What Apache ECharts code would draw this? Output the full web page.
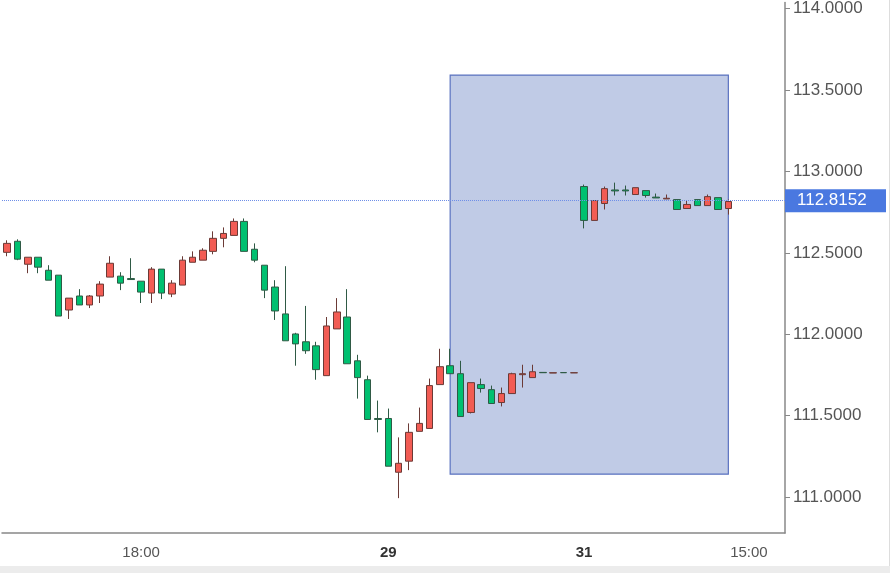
<!DOCTYPE html>
<html>
<head>
<meta charset="utf-8">
<script src="https://cdn.jsdelivr.net/npm/echarts@6/dist/echarts.min.js"></script>
<style>
  html, body { margin: 0; padding: 0; background: #fff; }
  #chart { width: 890px; height: 566px; border-right: 1px solid #ddd; box-sizing: border-box; }
  .strip { width: 890px; height: 7px; background: #ececec; }
</style>
</head>
<body>
<div id="chart"></div>
<div class="strip"></div>
<script>
// open, close, low, high per candle
const opens = [112.503,112.571,112.430,112.473,112.393,112.363,112.149,112.235,112.180,112.235,112.351,112.357,112.342,112.326,112.253,112.400,112.247,112.302,112.442,112.455,
  112.509,112.589,112.607,112.693,112.522,112.424,112.290,112.125,112.002,111.954,111.929,111.746,112.033,112.106,111.837,111.721,111.483,111.483,111.153,111.221,
  111.404,111.422,111.691,111.807,111.758,111.520,111.691,111.660,111.581,111.636,111.752,111.734,111.766,111.762,111.765,111.763,
  112.907,112.699,112.803,112.886,112.886,112.858,112.882,112.842,112.831,112.827,112.772,112.827,112.790,112.839,112.772];
const closes = [112.558,112.461,112.473,112.412,112.332,112.112,112.222,112.180,112.235,112.308,112.436,112.314,112.336,112.259,112.400,112.253,112.314,112.455,112.473,112.516,
  112.589,112.619,112.693,112.509,112.455,112.271,112.143,111.960,111.941,111.899,111.783,112.051,112.137,111.819,111.734,111.477,111.477,111.190,111.208,111.398,
  111.453,111.685,111.801,111.758,111.495,111.703,111.667,111.575,111.636,111.758,111.758,111.770,111.764,111.764,111.764,111.764,
  112.699,112.821,112.894,112.880,112.880,112.900,112.852,112.837,112.835,112.766,112.797,112.790,112.845,112.766,112.815];
const lows = [112.479,112.455,112.375,112.375,112.332,112.112,112.094,112.180,112.161,112.192,112.351,112.271,112.336,112.192,112.192,112.216,112.228,112.302,112.442,112.455,
  112.491,112.534,112.607,112.509,112.442,112.222,112.088,111.960,111.807,111.880,111.721,111.746,112.033,111.819,111.605,111.477,111.398,111.190,110.994,111.166,
  111.404,111.422,111.691,111.758,111.495,111.514,111.642,111.575,111.557,111.636,111.673,111.734,111.764,111.762,111.764,111.763,
  112.650,112.699,112.766,112.852,112.852,112.858,112.839,112.837,112.831,112.766,112.772,112.790,112.790,112.766,112.735];
const highs = [112.577,112.583,112.473,112.473,112.424,112.363,112.222,112.277,112.241,112.326,112.479,112.381,112.467,112.326,112.412,112.400,112.332,112.479,112.509,112.528,
  112.632,112.656,112.711,112.711,112.558,112.424,112.332,112.418,112.009,112.174,111.954,112.106,112.222,112.277,111.874,111.746,111.593,111.544,111.367,111.453,
  111.550,111.728,111.911,111.911,111.837,111.703,111.728,111.685,111.673,111.764,111.813,111.813,111.766,111.764,111.765,111.764,
  112.919,112.821,112.907,112.931,112.913,112.900,112.882,112.864,112.858,112.827,112.821,112.827,112.858,112.839,112.827];

const tickLabels = { 13: '18:00', 37: '29', 56: '31', 72: '15:00' };
const boldLabels = ['29', '31'];
const categoryCount = 76;
const lastPrice = 112.8152;
const boxStartIdx = 43, boxEndIdx = 70;
const boxTop = 113.591, boxBottom = 111.141;
const yTicks = [111, 111.5, 112, 112.5, 113, 113.5, 114];

const categories = [];
for (let i = 0; i < categoryCount; i++) categories.push(tickLabels[i] || '');
const candles = opens.map((o, i) => [o, closes[i], lows[i], highs[i]]);

const chart = echarts.init(document.getElementById('chart'));
chart.setOption({
  animation: false,
  grid: { left: 2, right: 104, top: 0, bottom: 33 },
  xAxis: {
    type: 'category',
    data: categories,
    axisLine: { lineStyle: { color: '#888', width: 1.5 } },
    axisTick: { alignWithLabel: true, length: 5, lineStyle: { color: '#888' },
      interval: (i, v) => v !== '' },
    axisLabel: {
      interval: (i, v) => v !== '',
      color: '#555', fontSize: 15, fontFamily: 'Liberation Sans', margin: 12,
      formatter: v => boldLabels.includes(v) ? '{b|' + v + '}' : v,
      rich: { b: { fontWeight: 'bold', color: '#333', fontSize: 15, fontFamily: 'Liberation Sans' } }
    },
    splitLine: { show: false }
  },
  yAxis: {
    type: 'value',
    position: 'right',
    min: 110.78, max: 114.037,
    axisLine: { show: true, lineStyle: { color: '#888', width: 1.5 } },
    axisTick: { show: true, length: 5, customValues: yTicks, lineStyle: { color: '#888' } },
    axisLabel: { customValues: yTicks, color: '#555', fontSize: 17, fontFamily: 'Liberation Sans',
      margin: 8, formatter: v => v.toFixed(4) },
    splitLine: { show: false }
  },
  series: [{
    type: 'candlestick',
    data: candles,
    barWidth: 7,
    itemStyle: {
      color: '#f25c54', color0: '#00c070',
      borderColor: '#6b3a36', borderColor0: '#2f5a45', borderWidth: 1
    },
    markArea: {
      silent: true,
      itemStyle: { color: 'rgba(140,160,210,0.55)', borderColor: '#5a72c0', borderWidth: 1.2 },
      data: [[{ xAxis: boxStartIdx, yAxis: boxTop }, { xAxis: boxEndIdx, yAxis: boxBottom }]]
    },
    markLine: {
      silent: true, symbol: 'none',
      lineStyle: { color: '#6f8fe8', type: 'dotted', width: 1 },
      label: {
        position: 'end', distance: 0, formatter: () => lastPrice.toFixed(4),
        backgroundColor: '#4a78e0', color: '#fff', fontSize: 17, fontFamily: 'Liberation Sans',
        padding: [3, 5, 3, 12], width: 84
      },
      data: [{ yAxis: lastPrice }]
    }
  }]
});
</script>
</body>
</html>
